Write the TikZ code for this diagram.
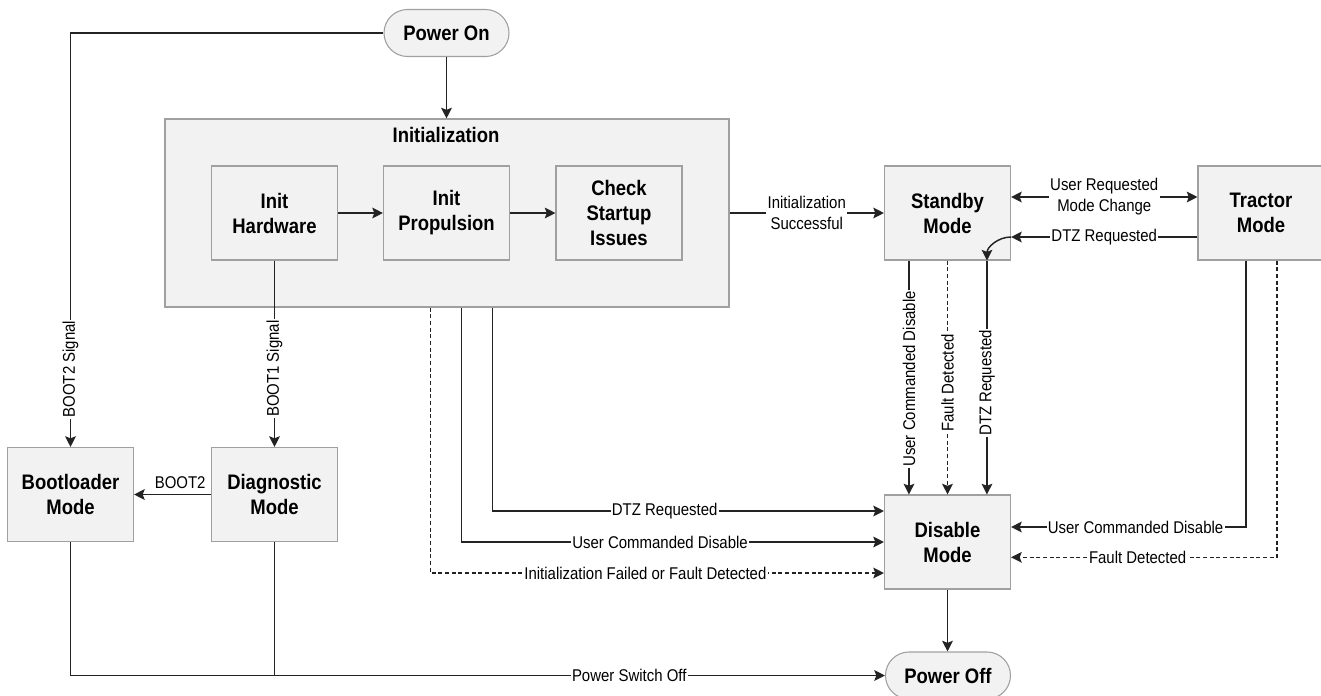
\documentclass[tikz,border=0pt]{standalone}
\usepackage{fontspec}
\setmainfont[FakeStretch=0.88]{Liberation Sans}
\usetikzlibrary{arrows.meta, shapes.misc, positioning}
\definecolor{boxfill}{RGB}{242,242,242}
\definecolor{boxline}{RGB}{160,160,160}
\definecolor{wirecol}{RGB}{35,35,35}
\newcommand{\lblsize}{\fontsize{12.75pt}{15.75pt}\selectfont}
\newcommand{\ttlsize}{\fontsize{15.75pt}{18.75pt}\selectfont\bfseries}
\tikzset{
  state/.style={draw=boxline, fill=boxfill, line width=0.8pt, minimum width=94.5pt, minimum height=70.5pt, inner sep=0pt, align=center, font=\ttlsize},
  term/.style={state, rounded rectangle, minimum width=93.75pt, minimum height=35.25pt},
  plain/.style={draw=wirecol, line width=1.1pt},
  wire/.style={plain, -{Stealth[length=8pt, width=8pt, inset=1.5pt]}},
  biwire/.style={plain, {Stealth[length=8pt, width=8pt, inset=1.5pt]}-{Stealth[length=8pt, width=8pt, inset=1.5pt]}},
  dwire/.style={wire, dash pattern=on 3pt off 2pt},
  lbl/.style={fill=white, inner sep=1pt, font=\lblsize, align=center},
}

\begin{document}
\begin{tikzpicture}[x=0.75pt, y=-0.75pt]
\useasboundingbox (0,0) rectangle (1321,696);
% states
\node[term] (poweron) at (446.5,33) {Power On};
\node[state, minimum width=423pt, minimum height=141pt] (init) at (447,213) {};
\node[font=\ttlsize] (inittitle) at (446,135) {Initialization};
\node[state] (hw) at (274.5,213) {Init\\Hardware};
\node[state] (prop) at (446.5,213) {Init\\Propulsion};
\node[state] (check) at (619,213) {Check\\Startup\\Issues};
\node[state] (standby) at (947.5,213) {Standby\\Mode};
\node[state] (tractor) at (1261,213) {Tractor\\Mode};
\node[state] (boot) at (70.5,494.5) {Bootloader\\Mode};
\node[state] (diag) at (274.5,494.5) {Diagnostic\\Mode};
\node[state] (disable) at (947.5,542) {Disable\\Mode};
\node[term] (poweroff) at (948,675.5) {Power Off};

% transitions
\draw[wire] (poweron.south) -- (poweron.south |- init.north);
\draw[wire] (poweron.west) -| (boot.north) node[lbl, rotate=90, pos=0.906] {BOOT2 Signal};
\draw[wire] (hw) -- (prop);
\draw[wire] (prop) -- (check);
\draw[wire] (hw.south) -- (diag.north) node[lbl, rotate=90, pos=0.58] {BOOT1 Signal};
\draw[wire] (diag.west) -- (boot.east) node[lbl, fill=none, above=3pt, pos=0.4] {BOOT2};
\draw[wire] (init.east) -- (standby.west) node[lbl, midway] {Initialization\\Successful};
\draw[biwire] ([yshift=12pt]standby.east) -- ([yshift=12pt]tractor.west) node[lbl, midway] {User Requested\\Mode Change};
\draw[wire] ([yshift=-18pt]tractor.west) -- ([yshift=-18pt]standby.east) node[lbl, midway] {DTZ Requested};
\draw[wire] ([yshift=-18pt]standby.east) to[out=180, in=90] ([xshift=29.6pt]standby.south);
\draw[wire] ([xshift=-28.9pt]standby.south) -- ([xshift=-28.9pt]disable.north) node[lbl, rotate=90, pos=0.506] {User Commanded Disable};
\draw[dwire] (standby.south) -- (disable.north) node[lbl, rotate=90, pos=0.523] {Fault Detected};
\draw[wire] ([xshift=29.6pt]standby.south) -- ([xshift=29.6pt]disable.north) node[lbl, rotate=90, pos=0.523] {DTZ Requested};
\draw[wire] ([xshift=34.1pt]init.south) |- ([yshift=23.25pt]disable.west) node[lbl, pos=0.72] {DTZ Requested};
\draw[wire] ([xshift=10.9pt]init.south) |- (disable.west) node[lbl, pos=0.735] {User Commanded Disable};
\draw[dwire] ([xshift=-12.4pt]init.south) |- ([yshift=-23.25pt]disable.west) node[lbl, pos=0.737] {Initialization Failed or Fault Detected};
\draw[wire] ([xshift=-11.25pt]tractor.south) |- ([yshift=11.25pt]disable.east) node[lbl, pos=0.735] {User Commanded Disable};
\draw[dwire] ([xshift=12pt]tractor.south) |- ([yshift=-11.5pt]disable.east) node[lbl, pos=0.762] {Fault Detected};
\draw[wire] (disable.south) -- (disable.south |- poweroff.north);
\draw[wire] (boot.south) |- (poweroff.west) node[lbl, pos=0.843] {Power Switch Off};
\draw[plain] (diag.south) -- (diag.south |- poweroff.west);
\end{tikzpicture}
\end{document}
